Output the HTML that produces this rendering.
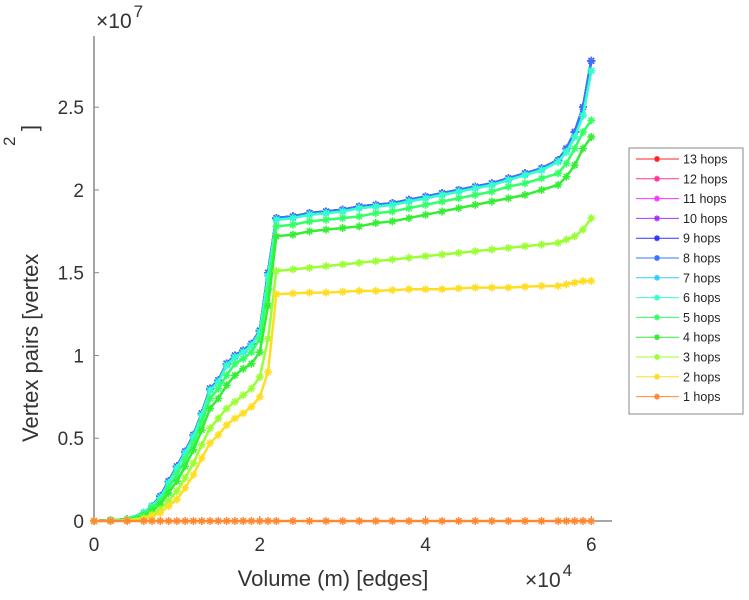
<!DOCTYPE html>
<html><head><meta charset="utf-8"><style>
body{margin:0;background:#fff;}
svg{display:block;font-family:"Liberation Sans",sans-serif;}
</style></head><body>
<svg id="chart" width="749" height="600" viewBox="0 0 749 600">
<g id="axes"></g>
<g id="series"></g>
<text x="96" y="28" font-size="21" fill="#333">×10<tspan font-size="17" dy="-11" dx="2">7</tspan></text>
<text x="525" y="587" font-size="21" fill="#333">×10<tspan font-size="17" dy="-11" dx="2">4</tspan></text>
<text x="333" y="586" font-size="22" fill="#333" text-anchor="middle">Volume (m) [edges]</text>
<text transform="translate(38,442) rotate(-90)" font-size="22" fill="#333">Vertex pairs [vertex</text>
<text transform="translate(15,146) rotate(-90)" font-size="17" fill="#333">2</text>
<text transform="translate(37,131) rotate(-90)" font-size="22" fill="#333">]</text>
<g id="legend"></g>
</svg>
<script>
const xVals=[0,0.2,0.4,0.6,0.7,0.8,0.9,1.0,1.1,1.2,1.3,1.4,1.5,1.6,1.7,1.8,1.9,2.0,2.1,2.2,2.4,2.6,2.8,3.0,3.2,3.4,3.6,3.8,4.0,4.2,4.4,4.6,4.8,5.0,5.2,5.4,5.6,5.7,5.8,5.9,6.0];
const hops9=[0,0.005,0.01,0.05,0.09,0.15,0.24,0.33,0.42,0.52,0.65,0.8,0.85,0.95,1.0,1.03,1.07,1.15,1.5,1.83,1.84,1.86,1.87,1.88,1.9,1.91,1.92,1.94,1.96,1.98,2.0,2.02,2.04,2.07,2.1,2.13,2.18,2.25,2.35,2.5,2.78];
const hops6=[0,0.005,0.01,0.05,0.09,0.14,0.23,0.32,0.41,0.51,0.64,0.79,0.84,0.94,0.99,1.02,1.06,1.14,1.48,1.82,1.83,1.85,1.86,1.87,1.89,1.9,1.91,1.93,1.95,1.97,1.99,2.01,2.03,2.06,2.09,2.12,2.17,2.23,2.32,2.45,2.72];
const hops5=[0,0.004,0.01,0.04,0.08,0.12,0.2,0.28,0.37,0.47,0.6,0.74,0.8,0.88,0.95,0.98,1.02,1.1,1.4,1.78,1.79,1.81,1.82,1.83,1.84,1.86,1.87,1.89,1.91,1.93,1.95,1.97,1.99,2.02,2.04,2.07,2.1,2.16,2.25,2.35,2.42];
const hops4=[0,0.003,0.008,0.03,0.06,0.1,0.17,0.24,0.33,0.43,0.55,0.68,0.74,0.82,0.88,0.92,0.95,1.02,1.3,1.72,1.73,1.75,1.76,1.77,1.78,1.8,1.81,1.83,1.85,1.87,1.89,1.91,1.93,1.95,1.97,2.0,2.03,2.08,2.15,2.25,2.32];
const hops3=[0,0.002,0.005,0.02,0.04,0.07,0.12,0.18,0.26,0.35,0.46,0.56,0.62,0.68,0.72,0.76,0.8,0.87,1.1,1.51,1.52,1.53,1.54,1.55,1.56,1.57,1.58,1.59,1.6,1.61,1.62,1.63,1.64,1.65,1.66,1.67,1.68,1.7,1.72,1.76,1.83];
const hops2=[0,0.001,0.003,0.01,0.03,0.05,0.09,0.13,0.2,0.28,0.38,0.47,0.52,0.58,0.62,0.65,0.69,0.75,0.9,1.37,1.375,1.38,1.38,1.385,1.39,1.39,1.395,1.4,1.4,1.4,1.405,1.41,1.41,1.41,1.415,1.42,1.42,1.43,1.44,1.45,1.45];
const hops1=[0,0,0,0,0,0,0,0,0,0,0,0,0,0,0,0,0,0,0,0,0,0,0,0,0,0,0,0,0,0,0,0,0,0,0,0,0,0,0,0,0];
const seriesNames=["13 hops","12 hops","11 hops","10 hops","9 hops","8 hops","7 hops","6 hops","5 hops","4 hops","3 hops","2 hops","1 hops"];
const seriesColors=["#ff2020","#ff3399","#ff33ff","#aa33ff","#3333ff","#3377ff","#33ccff","#33ffcc","#33ff66","#33ee33","#99ff33","#ffdd22","#ff8833"];
const seriesData=[hops9,hops9,hops9,hops9,hops9,hops9,hops6,hops6,hops5,hops4,hops3,hops2,hops1];
const xTicks=[0,2,4,6];
const yTicks=[0,0.5,1,1.5,2,2.5];
const yTickLabels=["0","0.5","1","1.5","2","2.5"];

const NS="http://www.w3.org/2000/svg";
const X0=94,X1=612,XMAX=6.25,Y0=521,Y1=36,YMAX=2.93;
const sx=v=>X0+v/XMAX*(X1-X0);
const sy=v=>Y0-v/YMAX*(Y0-Y1);
function mk(tag,attrs,parent){const e=document.createElementNS(NS,tag);for(const k in attrs)e.setAttribute(k,attrs[k]);parent.appendChild(e);return e;}
const axes=document.getElementById('axes');
let l=mk('line',{x1:X0,y1:Y0,x2:X1,y2:Y0,stroke:'#888','stroke-width':1.5},axes);


l=mk('line',{x1:X0,y1:Y0,x2:X0,y2:Y1,stroke:'#888','stroke-width':1.5},axes);


xTicks.forEach(t=>{
 const tk=mk('line',{x1:sx(t),y1:Y0,x2:sx(t),y2:Y0-5,stroke:'#888'},axes);
 
 
 const tx=mk('text',{x:sx(t),y:Y0+30,'font-size':19,fill:'#333','text-anchor':'middle'},axes);
 tx.textContent=String(t);
 
 
});
yTicks.forEach((t,i)=>{
 const tk=mk('line',{x1:X0,y1:sy(t),x2:X0+5,y2:sy(t),stroke:'#888'},axes);
 
 
 const tx=mk('text',{x:X0-10,y:sy(t)+7,'font-size':19,fill:'#333','text-anchor':'end'},axes);
 tx.textContent=yTickLabels[i];
 
 
});
function star(g,cx,cy,c,r){
 const d=`M${cx-r},${cy}H${cx+r}M${cx},${cy-r}V${cy+r}M${cx-r*0.7},${cy-r*0.7}L${cx+r*0.7},${cy+r*0.7}M${cx-r*0.7},${cy+r*0.7}L${cx+r*0.7},${cy-r*0.7}`;
 const p=mk('path',{d:d,stroke:c,'stroke-width':1.5,fill:'none'},g);
 
 
}
const sg=document.getElementById('series');
seriesData.forEach((vals,i)=>{
 const g=mk('g',{},sg);
 
 
 const pts=xVals.map((x,j)=>sx(x)+','+sy(vals[j])).join(' ');
 const pl=mk('polyline',{points:pts,fill:'none',stroke:seriesColors[i],'stroke-width':2.5,'stroke-linejoin':'round'},g);
 
 
 xVals.forEach((x,j)=>star(g,sx(x),sy(vals[j]),seriesColors[i],4));
});
const lg=document.getElementById('legend');
const box=mk('rect',{x:629,y:148,width:114,height:266,fill:'#fff',stroke:'#888'},lg);


seriesNames.forEach((n,i)=>{
 const y=159+i*19.8;
 const g=mk('g',{},lg);
 
 
 mk('line',{x1:636,y1:y,x2:679,y2:y,stroke:seriesColors[i],'stroke-width':1},g);
 star(g,657,y,seriesColors[i],3);
 const t=mk('text',{x:683,y:y+4.5,'font-size':12.5,fill:'#222'},g);
 t.textContent=n;
});
</script>
</body></html>
